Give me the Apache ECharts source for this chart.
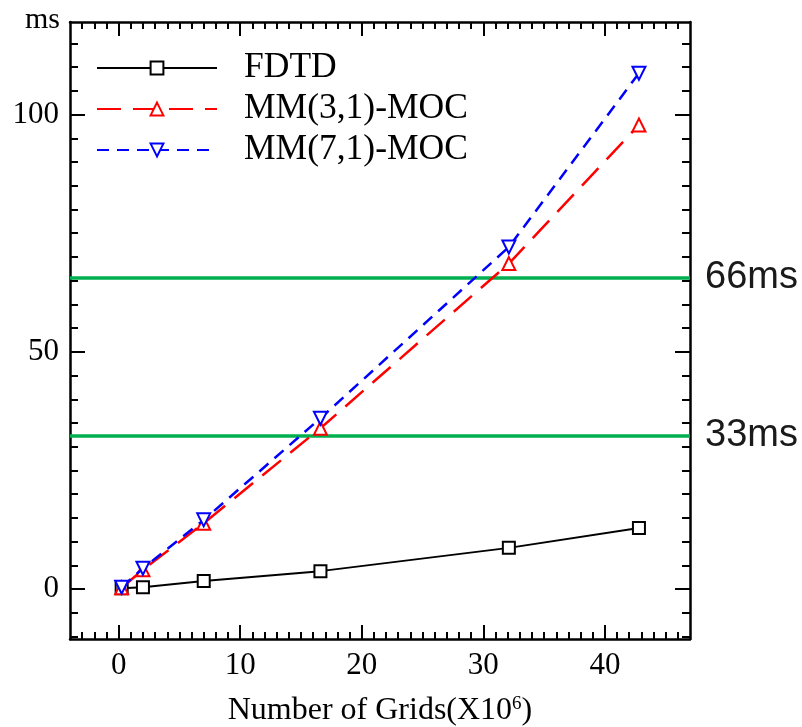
<!DOCTYPE html>
<html>
<head>
<meta charset="utf-8">
<script src="https://cdn.jsdelivr.net/npm/echarts@6/dist/echarts.min.js"></script>
<style>html,body{margin:0;padding:0;background:#fff}#c{width:802px;height:727px}</style>
</head>
<body>
<div id="c"></div>
<script>
// ---- data ----
const seriesNames = ['FDTD', 'MM(3,1)-MOC', 'MM(7,1)-MOC'];
const gridsFDTD = [0.25, 2.0, 7.0, 16.6, 32.1, 42.8];
const timeFDTD  = [0.2, 0.4, 1.7, 3.8, 8.7, 12.9];
const gridsMM31 = [0.25, 2.0, 7.0, 16.6, 32.1, 42.8];
const timeMM31  = [0.3, 4.1, 13.9, 33.9, 68.6, 97.8];
const gridsMM71 = [0.25, 2.0, 7.0, 16.6, 32.1, 42.8];
const timeMM71  = [0.4, 4.4, 14.6, 36.0, 72.1, 108.7];
const thresholdValues = [65.7, 32.3];
const thresholdLabels = ['66ms', '33ms'];
const xMajorTicks = [0, 10, 20, 30, 40];
const xMinorTicks = [-3,-2,-1,1,2,3,4,5,6,7,8,9,11,12,13,14,15,16,17,18,19,21,22,23,24,25,26,27,28,29,31,32,33,34,35,36,37,38,39,41,42,43,44,45,46];
const yMajorTicks = [0, 50, 100];
const yMinorTicks = [-10,-5,5,10,15,20,25,30,35,40,45,55,60,65,70,75,80,85,90,95,105,110,115];
const yUnit = 'ms';
const xTitle = 'Number of Grids(X10';
const xTitleSup = '6';

const pair = (xs, ys) => xs.map((x, i) => [x, ys[i]]);
const SERIF = '"Liberation Serif", "Times New Roman", serif';
const SANS = '"Liberation Sans", Arial, sans-serif';
const X_MIN = -4, X_MAX = 47, Y_MIN = -10.5, Y_MAX = 119.5;

function xAx(grid, pos, ticks, len, main) {
  return {
    type: 'value', gridIndex: grid, position: pos, min: X_MIN, max: X_MAX,
    axisLine: { show: main, onZero: false, lineStyle: { color: '#000', width: 2.5 } },
    axisTick: { show: true, inside: true, length: len, customValues: ticks, lineStyle: { color: '#000', width: 2 } },
    axisLabel: main && pos === 'bottom'
      ? { show: true, customValues: xMajorTicks, fontSize: 31, fontFamily: SERIF, color: '#000', margin: 11 }
      : { show: false },
    splitLine: { show: false }
  };
}
function yAx(grid, pos, ticks, len, main) {
  return {
    type: 'value', gridIndex: grid, position: pos, min: Y_MIN, max: Y_MAX,
    axisLine: { show: main, onZero: false, lineStyle: { color: '#000', width: 2.5 } },
    axisTick: { show: true, inside: true, length: len, customValues: ticks, lineStyle: { color: '#000', width: 2 } },
    axisLabel: main && pos === 'left'
      ? { show: true, customValues: yMajorTicks, fontSize: 31, fontFamily: SERIF, color: '#000', margin: 11 }
      : { show: false },
    splitLine: { show: false }
  };
}

const xAxes = [
  xAx(0, 'bottom', xMajorTicks, 14, true),
  xAx(0, 'top', xMajorTicks, 14, true),
  xAx(1, 'bottom', xMinorTicks, 7, false),
  xAx(1, 'top', xMinorTicks, 7, false)
];
xAxes[0].name = '{a|' + xTitle + '}{s|' + xTitleSup + '}{a|)}';
xAxes[0].nameLocation = 'middle';
xAxes[0].nameGap = 56;
xAxes[0].nameTextStyle = {
  rich: {
    a: { fontSize: 32, fontFamily: SERIF, color: '#000' },
    s: { fontSize: 19, fontFamily: SERIF, color: '#000', verticalAlign: 'top' }
  }
};

const yAxes = [
  yAx(0, 'left', yMajorTicks, 15, true),
  yAx(0, 'right', yMajorTicks, 15, true),
  yAx(1, 'left', yMinorTicks, 8, false),
  yAx(1, 'right', yMinorTicks, 8, false)
];

const gridBox = { left: 70, right: 112, top: 22, bottom: 88, containLabel: false, outerBoundsMode: 'none' };

const chart = echarts.init(document.getElementById('c'), null, { renderer: 'canvas' });
chart.setOption({
  animation: false,
  backgroundColor: '#fff',
  grid: [Object.assign({}, gridBox), Object.assign({}, gridBox)],
  xAxis: xAxes,
  yAxis: yAxes,
  graphic: [{
    type: 'text', left: 25, top: 5,
    style: { text: yUnit, fontSize: 30, fontFamily: SERIF, fill: '#000' }
  }],
  legend: {
    orient: 'vertical', left: 96, top: 50, padding: 0,
    itemWidth: 120, itemHeight: 16, itemGap: 5,
    data: seriesNames,
    textStyle: { fontSize: 35.5, fontFamily: SERIF, color: '#000', lineHeight: 34, padding: [0, 0, 0, 22] }
  },
  series: [
    {
      name: seriesNames[0], type: 'line', xAxisIndex: 0, yAxisIndex: 0,
      data: pair(gridsFDTD, timeFDTD), z: 5,
      symbol: 'emptyRect', symbolSize: 12,
      lineStyle: { color: '#000', width: 2 },
      itemStyle: { color: '#000', borderWidth: 2 },
      markLine: {
        silent: true, symbol: ['none', 'none'], z: 1,
        lineStyle: { color: '#00b050', width: 3.5, type: 'solid' },
        label: { show: true, position: 'end', distance: 15, fontSize: 38, fontFamily: SANS, color: '#1a1a1a' },
        emphasis: { disabled: true },
        data: thresholdValues.map((v, i) => ({ yAxis: v, label: { formatter: thresholdLabels[i] } }))
      }
    },
    {
      name: seriesNames[1], type: 'line', xAxisIndex: 0, yAxisIndex: 0,
      data: pair(gridsMM31, timeMM31), z: 6,
      symbol: 'emptyTriangle', symbolSize: 13,
      lineStyle: { color: '#ff0000', width: 2.5, type: [24, 12] },
      itemStyle: { color: '#ff0000', borderWidth: 2 }
    },
    {
      name: seriesNames[2], type: 'line', xAxisIndex: 0, yAxisIndex: 0,
      data: pair(gridsMM71, timeMM71), z: 7,
      symbol: 'emptyTriangle', symbolSize: 13, symbolRotate: 180,
      lineStyle: { color: '#0000ff', width: 2.5, type: [12, 8] },
      itemStyle: { color: '#0000ff', borderWidth: 2 }
    }
  ]
});
</script>
</body>
</html>
